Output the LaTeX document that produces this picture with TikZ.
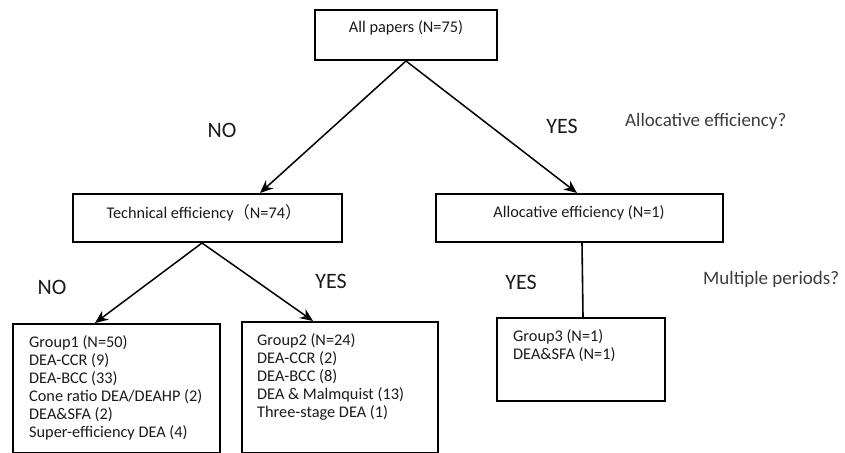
\documentclass[tikz,border=0pt]{standalone}
\usepackage{fontspec}
\setmainfont{Carlito}
\newfontfamily\cjkfont{Noto Sans CJK SC}
\usetikzlibrary{arrows.meta,calc}
\definecolor{inkgray}{HTML}{1A1A1A}
\tikzset{
  box/.style={draw, line width=2pt, inner sep=0pt},
  boxtext/.style={text=inkgray, font=\fontsize{16.3pt}{18pt}\selectfont, inner sep=0pt},
  listtext/.style={boxtext, align=left, anchor=north west},
  answer/.style={text=inkgray, font=\fontsize{22pt}{24pt}\selectfont, inner sep=0pt},
  question/.style={text=inkgray!85, font=\fontsize{19pt}{22pt}\selectfont, inner sep=0pt, anchor=west},
  branch/.style={-{Stealth[length=13pt,width=11pt]}, line width=1.5pt},
  stem/.style={line width=1.6pt}
}

\begin{document}
\begin{tikzpicture}[x=1pt,y=1pt]
  \useasboundingbox (0,0) rectangle (845,452);
  \clip (0,0) rectangle (845,452);

  % boxes
  \node[box, minimum width=182pt, minimum height=50pt] (top) at (406,417) {};
  \node[box, minimum width=269pt, minimum height=48pt] (tech) at (207.5,234) {};
  \node[box, minimum width=287pt, minimum height=48pt] (alloc) at (579.5,234) {};
  \node[box, minimum width=207pt, minimum height=129pt] (group1) at (116.5,63.5) {};
  \node[box, minimum width=196pt, minimum height=131pt] (group2) at (340,64.5) {};
  \node[box, minimum width=168pt, minimum height=83pt] (group3) at (581,92.5) {};

  % box texts
  \node[boxtext] (toptxt) at (406,424) {All papers (N=75)};
  \node[boxtext] (techtxt) at (204,239) {Technical efficiency{\cjkfont （}N=74{\cjkfont ）}};
  \node[boxtext] (alloctxt) at (579,239) {Allocative efficiency (N=1)};
  \node[listtext] (group1txt) at ($(group1.north west)+(17,-12)$)
    {Group1 (N=50)\\DEA-CCR (9)\\DEA-BCC (33)\\Cone ratio DEA/DEAHP (2)\\DEA\&SFA (2)\\Super-efficiency DEA (4)};
  \node[listtext] (group2txt) at ($(group2.north west)+(16,-12)$)
    {Group2 (N=24)\\DEA-CCR (2)\\DEA-BCC (8)\\DEA \& Malmquist (13)\\Three-stage DEA (1)};
  \node[listtext] (group3txt) at ($(group3.north west)+(17,-12)$)
    {Group3 (N=1)\\DEA\&SFA (N=1)};

  % answers and questions
  \node[answer] (no1) at (222,322) {NO};
  \node[answer] (yes1) at (562,326) {YES};
  \node[answer] (no2) at (52,165) {NO};
  \node[answer] (yes2) at (331,171) {YES};
  \node[answer] (yes3) at (521,170) {YES};
  \node[question] (q1) at (625,331) {Allocative efficiency?};
  \node[question] (q2) at (703,173) {Multiple periods?};

  % connectors
  \draw[branch] (top.south) -- ([xshift=52.5pt]tech.north);
  \draw[branch] (top.south) -- ([xshift=-2.5pt]alloc.north);
  \draw[branch] ([xshift=-5.5pt]tech.south) -- ([xshift=-21.5pt]group1.north);
  \draw[branch] ([xshift=-5.5pt]tech.south) -- ([xshift=-27pt]group2.north);
  \draw[stem] ([xshift=2.5pt]alloc.south) -- ([xshift=2pt]group3.north);

\end{tikzpicture}
\end{document}
